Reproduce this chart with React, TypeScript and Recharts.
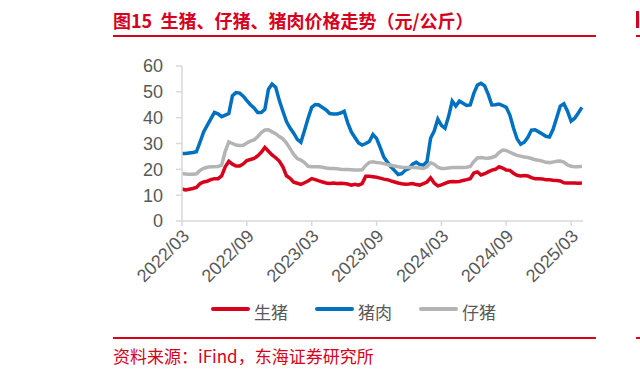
import { LineChart, Line, XAxis, YAxis } from "recharts";

// x = months since 2022/03, one point every ~10 days
const TICK_MONTHS = [0, 6, 12, 18, 24, 30, 36];
const TICK_LABELS = ["2022/03", "2022/09", "2023/03", "2023/09", "2024/03", "2024/09", "2025/03"];
const Y_TICKS = [0, 10, 20, 30, 40, 50, 60];

// 生猪 (元/公斤)
const HOG = [
  12.4, 12, 12.3, 12.6, 13, 14.4, 15.1, 15.4, 16, 16.4, 16.4, 17.5, 21, 23.1, 22, 21.3,
  21.3, 22.1, 23.4, 23.8, 24.2, 25.2, 26.6, 28.5, 27, 25.6, 24.5, 23.2, 21, 17.5, 16.5, 15,
  14.6, 14.2, 14.8, 15.5, 16.4, 16, 15.5, 15.1, 14.7, 14.5, 14.7, 14.5, 14.6, 14.5, 14.3, 13.9,
  14.2, 13.9, 14.5, 17.3, 17.3, 17.1, 16.9, 16.6, 16.2, 16, 15.5, 15.1, 14.7, 14.4, 14.2, 14.3,
  14.5, 14.1, 13.9, 14.5, 15.1, 16.7, 14.7, 13.6, 14, 14.6, 15.1, 15.3, 15.2, 15.3, 15.7, 16,
  16.4, 18.6, 19, 17.8, 18.3, 19, 19.7, 20, 21, 20.5, 19.7, 19.6, 18.5, 17.7, 17.4, 17.6,
  17.4, 16.8, 16.4, 16.4, 16.3, 16, 16, 15.8, 15.7, 15.5, 14.8, 14.7, 14.7, 14.7, 14.6, 14.7,
];

// 猪肉
const PORK = [
  26.1, 26.1, 26.3, 26.5, 26.8, 30.5, 34.5, 37, 39.5, 42, 41.5, 40.4, 41, 41.6, 48.5, 49.7,
  49.5, 48.3, 46.6, 45, 43.8, 42, 42, 43.2, 51, 53, 51.8, 46.7, 42.5, 38.5, 36, 34,
  31.6, 30.5, 35, 39.8, 44, 45.1, 44.9, 43.9, 43, 41.6, 41.4, 41.4, 41.8, 42.5, 38, 34.5,
  32.3, 30.2, 29.4, 30, 30.8, 33.5, 32, 28.5, 24.8, 22.8, 21, 19.5, 18, 18.3, 19.7, 20.3,
  22, 22.7, 21.9, 21.6, 23, 32, 34.8, 39.4, 37, 35.9, 40.5, 46.4, 44.5, 46.4, 45.6, 44.7,
  44.9, 49.4, 52.6, 53.3, 52.3, 49, 44.9, 45, 45.3, 44.7, 44, 41, 36, 31.8, 29.7, 30.5,
  32.4, 35.2, 35.3, 34.5, 33.7, 32.8, 32.5, 35.5, 40, 44.5, 45.4, 42.5, 38.7, 39.8, 41.8, 44,
];

// 仔猪
const PIGLET = [
  18.4, 18.2, 18.1, 18.1, 18.3, 19.6, 20.4, 20.8, 21, 21, 21.1, 21.6, 27, 30.6, 30, 29.4,
  29.2, 29.3, 30.2, 30.9, 31.4, 32.6, 34.2, 35.2, 35.3, 34.5, 33.8, 32.7, 31.8, 30.2, 28, 25.8,
  24.2, 23.6, 22.6, 21.2, 21, 21, 21, 20.8, 20.5, 20.3, 20.3, 20.2, 20, 19.9, 19.9, 19.8,
  19.7, 19.7, 19.8, 21.5, 22.7, 22.9, 22.6, 22.5, 22.2, 21.9, 21.6, 21.3, 21, 20.8, 20.7, 20.7,
  20.7, 20.7, 20.5, 20.3, 21, 22.5, 22, 20.8, 20.3, 20.3, 20.5, 20.7, 20.7, 20.7, 20.7, 20.8,
  21.1, 23, 24.4, 24.6, 24.4, 24.3, 24.6, 25.1, 26.5, 27.5, 27.3, 26.6, 26, 25.4, 25.1, 24.8,
  24.6, 24.2, 23.7, 23.5, 23.2, 22.7, 22.6, 22.8, 23.1, 23.2, 22.8, 21.7, 21.2, 21, 21, 21.2,
];

const SERIES = [
  { key: "hog", name: "生猪", color: "#D9001B" },
  { key: "pork", name: "猪肉", color: "#0070C0" },
  { key: "piglet", name: "仔猪", color: "#B4B4B4" },
];

const data = HOG.map((v, i) => ({ m: i / 3, hog: v, pork: PORK[i], piglet: PIGLET[i] }));

const RED = "#D7001D";
const GREY_TEXT = "#595959";
const AXIS = "#D9D9D9";
const FONT = "'Liberation Sans', Arial, 'Noto Sans CJK SC', sans-serif";
const CJK = "'Noto Sans CJK SC', sans-serif";

function XTick({ x, y, payload }: any) {
  const i = TICK_MONTHS.indexOf(payload.value);
  const ax = x + 4;
  const ay = y + 5;
  return (
    <text
      x={ax}
      y={ay}
      transform={`rotate(-45 ${ax} ${ay})`}
      textAnchor="end"
      dominantBaseline="central"
      fill={GREY_TEXT}
      fontSize={18}
      fontFamily={FONT}
    >
      {TICK_LABELS[i]}
    </text>
  );
}

function LegendRow() {
  return (
    <div style={{ display: "flex", alignItems: "center", fontFamily: CJK }}>
      {SERIES.map((s) => (
        <div key={s.key} style={{ display: "flex", alignItems: "center", marginRight: 27 }}>
          <span style={{ width: 39, height: 4, borderRadius: 2, background: s.color, marginRight: 4 }} />
          <span style={{ fontSize: 17, color: GREY_TEXT, lineHeight: "20px", marginTop: 6 }}>{s.name}</span>
        </div>
      ))}
    </div>
  );
}

export default function App() {
  return (
    <div style={{ position: "absolute", left: 0, top: 0, width: 640, height: 377, background: "#fff", overflow: "hidden" }}>
      <div
        style={{
          position: "absolute", left: 113, top: 8, fontSize: 18, fontWeight: 700, color: RED,
          fontFamily: CJK, lineHeight: "24px", whiteSpace: "nowrap",
        }}
      >
        图15&nbsp;&nbsp;生猪、仔猪、猪肉价格走势（元/公斤）
      </div>
      <div style={{ position: "absolute", left: 113, top: 35, width: 483, height: 2, background: RED }} />
      <div style={{ position: "absolute", left: 636, top: 35, width: 10, height: 2, background: RED }} />
      <div style={{ position: "absolute", left: 636, top: 11, width: 3, height: 17, background: RED }} />

      <div style={{ position: "absolute", left: 0, top: 0 }}>
        <LineChart width={640} height={377} data={data} margin={{ top: 66, right: 57, bottom: 96, left: 142 }}>
          <XAxis
            dataKey="m"
            type="number"
            domain={[0, 37.1]}
            ticks={TICK_MONTHS}
            interval={0}
            tick={<XTick />}
            tickSize={5}
            stroke={AXIS}
            strokeWidth={1.5}
            height={60}
          />
          <YAxis
            domain={[0, 60]}
            ticks={Y_TICKS}
            interval={0}
            width={40}
            tickSize={6}
            tickMargin={13}
            stroke={AXIS}
            strokeWidth={1.5}
            tick={{ fill: GREY_TEXT, fontSize: 18, fontFamily: FONT }}
          />
          {SERIES.map((s) => (
            <Line
              key={s.key}
              dataKey={s.key}
              name={s.name}
              stroke={s.color}
              strokeWidth={3.5}
              dot={false}
              type="linear"
              isAnimationActive={false}
            />
          ))}
        </LineChart>
      </div>

      <div style={{ position: "absolute", left: 211, top: 296 }}>
        <LegendRow />
      </div>

      <div style={{ position: "absolute", left: 113, top: 337, width: 483, height: 2, background: RED }} />
      <div style={{ position: "absolute", left: 636, top: 337, width: 10, height: 2, background: RED }} />
      <div
        style={{
          position: "absolute", left: 113, top: 345, fontSize: 17, color: RED,
          fontFamily: CJK, lineHeight: "22px", whiteSpace: "nowrap",
        }}
      >
        资料来源：iFind，东海证券研究所
      </div>
    </div>
  );
}
